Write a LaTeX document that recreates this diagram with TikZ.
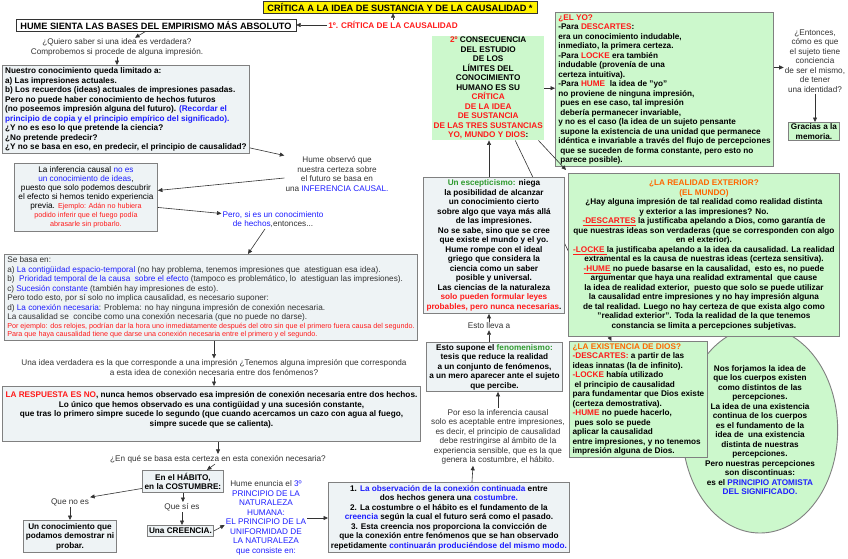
\documentclass[tikz,border=0pt]{standalone}
\usepackage{fontspec}
\setmainfont{Liberation Sans}
\usepackage{xcolor}
\usetikzlibrary{arrows.meta, shapes.geometric, backgrounds}

\definecolor{boxblue}{HTML}{EEF3F5}
\definecolor{boxgreen}{HTML}{CCF8CC}
\definecolor{bordergray}{HTML}{808080}
\definecolor{textgray}{HTML}{333333}
\definecolor{hred}{HTML}{FF1A1A}
\definecolor{hblue}{HTML}{1E1EFF}
\definecolor{hgreen}{HTML}{2E9A2E}
\definecolor{horange}{HTML}{FF6600}

\newcommand{\titlef}{\fontsize{9.2}{11}\selectfont\bfseries}
\newcommand{\bodyb}{\fontsize{8.2}{9.5}\selectfont\bfseries}
\newcommand{\bodyr}{\fontsize{8.2}{9.5}\selectfont}
\newcommand{\smallr}{\fontsize{7.2}{8.5}\selectfont}
\newcommand{\tred}[1]{\textcolor{hred}{#1}}
\newcommand{\tblue}[1]{\textcolor{hblue}{#1}}
\newcommand{\tgreen}[1]{\textcolor{hgreen}{#1}}
\newcommand{\torange}[1]{\textcolor{horange}{#1}}

\begin{document}
\begin{tikzpicture}[x=1pt, y=-1pt,
  arr/.style={-{Triangle[width=4pt,length=4.5pt]}, line width=0.6pt, black!80},
  bluebox/.style={draw=bordergray, fill=boxblue, line width=0.9pt, anchor=north west, inner sep=1pt},
  greenbox/.style={draw=bordergray, fill=boxgreen, line width=0.9pt, anchor=north west, inner sep=1pt},
  note/.style={text=textgray, align=center, font=\bodyr, inner sep=1pt}]
  \useasboundingbox (0,0) rectangle (848,558);

  % Title and first critique
  \node[draw=black!80, fill=yellow, font=\titlef, minimum width=274pt, minimum height=12pt, inner sep=0pt] (title) at (400,7) {CRÍTICA A LA IDEA DE SUSTANCIA Y DE LA CAUSALIDAD *};
  \node[draw=black!80, fill=white, font=\titlef, minimum width=280pt, minimum height=12pt, inner sep=0pt] (hume) at (156,25) {HUME SIENTA LAS BASES DEL EMPIRISMO MÁS ABSOLUTO};
  \node[font=\bodyb, text=hred, inner sep=1pt] (critica1) at (393,25) {1º. CRÍTICA DE LA CAUSALIDAD};
  \node[note] (quiero) at (117,47.5) {¿Quiero saber si una idea es verdadera?\\Comprobemos si procede de alguna impresión.};
  \node[bluebox, font=\bodyb, align=left, minimum width=247pt, minimum height=88pt] (limit) at (2,65) {Nuestro conocimiento queda limitado a:\\
    a) Las impresiones actuales.\\
    b) Los recuerdos (ideas) actuales de impresiones pasadas.\\
    Pero no puede haber conocimiento de hechos futuros\\
    (no poseemos impresión alguna del futuro). \tblue{(Recordar el}\\
    \tblue{principio de copia y el principio empírico del significado).}\\
    ¿Y no es eso lo que pretende la ciencia?\\
    ¿No pretende predecir?\\
    ¿Y no se basa en eso, en predecir, el principio de causalidad?};
  \node[note] (observo) at (337,174) {Hume observó que\\nuestra certeza sobre\\el futuro se basa en\\una \tblue{INFERENCIA CAUSAL.}};
  \node[bluebox, font={\fontsize{8.2}{9}\selectfont}, align=center, minimum width=143pt, minimum height=68pt] (inferencia) at (14,163) {La inferencia causal \tblue{no es}\\
    \tblue{un conocimiento de ideas},\\
    puesto que solo podemos descubrir\\
    el efecto si hemos tenido experiencia\\
    previa. {\smallr\color{hred}Ejemplo: Adán no hubiera}\\
    {\smallr\color{hred}podido inferir que el fuego podía}\\
    {\smallr\color{hred}abrasarle sin probarlo.}};
  \node[note] (hechos) at (273,219.5) {\tblue{Pero, si es un conocimiento}\\\tblue{de hechos}\textcolor{textgray}{,entonces...}};

  % What causality rests on
  \node[bluebox, font=\bodyr, text=textgray, align=left, minimum width=413pt, minimum height=86pt] (basa) at (4,254) {Se basa en:\\
    a) \tblue{La contigüidad espacio-temporal} (no hay problema, tenemos impresiones que\ \ atestiguan esa idea).\\
    b)\ \ \tblue{Prioridad temporal de la causa\ \ sobre el efecto} (tampoco es problemático, lo\ \ atestiguan las impresiones).\\
    c) \tblue{Sucesión constante} (también hay impresiones de esto).\\
    Pero todo esto, por sí solo no implica causalidad, es necesario suponer:\\
    d) \tblue{La conexión necesaria}: Problema: no hay ninguna impresión de conexión necesaria.\\
    La causalidad se\ \ concibe como una conexión necesaria (que no puede no darse).\\[-1pt]
    {\smallr\color{hred}Por ejemplo: dos relojes, podrían dar la hora uno inmediatamente después del otro sin que el primero fuera causa del segundo.}\\[-1pt]
    {\smallr\color{hred}Para que haya causalidad tiene que darse una conexión necesaria entre el primero y el segundo.}};
  \node[note] (verdadera) at (214,367.5) {Una idea verdadera es la que corresponde a una impresión ¿Tenemos alguna impresión que corresponda\\a esta idea de conexión necesaria entre dos fenómenos?};
  \node[bluebox, font=\bodyb, align=center, minimum width=418pt, minimum height=55pt] (respuesta) at (2,386) {\tred{LA RESPUESTA ES NO}, nunca hemos observado esa impresión de conexión necesaria entre dos hechos.\\
    Lo único que hemos observado es una contigüidad y una sucesión constante,\\
    que tras lo primero simpre sucede lo segundo (que cuando acercamos un cazo con agua al fuego,\\
    simpre sucede que se calienta).\\ \mbox{}};
  \node[note] (basaq) at (218,459) {¿En qué se basa esta certeza en esta conexión necesaria?};

  % Habit and belief
  \node[bluebox, font=\bodyb, align=center, minimum width=81pt, minimum height=22pt] (habito) at (142,470) {En el HÁBITO,\\en la COSTUMBRE:};
  \node[note] (queno) at (70,502) {Que no es};
  \node[bluebox, font=\bodyb, align=center, minimum width=93pt, minimum height=32pt] (conocimiento) at (23,520) {Un conocimiento que\\podamos demostrar ni\\probar.};
  \node[note] (quesi) at (182,507) {Que sí es};
  \node[bluebox, font=\bodyb, minimum width=66pt, minimum height=11pt, inner sep=0pt] (creencia) at (147,525) {Una CREENCIA.};
  \node[note] (enuncia) at (266,518) {Hume enuncia el \tblue{3º}\\\tblue{PRINCIPIO DE LA}\\\tblue{NATURALEZA}\\\tblue{HUMANA:}\\\tblue{EL PRINCIPIO DE LA}\\\tblue{UNIFORMIDAD DE}\\\tblue{LA NATURALEZA}\\\tblue{que consiste en:}};
  \node[bluebox, font=\bodyb, align=center, minimum width=241pt, minimum height=70pt] (obs) at (328,482) {1. \tblue{La observación de la conexión continuada} entre\\
    dos hechos genera una \tblue{costumbre.}\\
    2. La costumbre o el hábito es el fundamento de la\\
    \tblue{creencia} según la cual el futuro será como el pasado.\\
    3. Esta creencia nos proporciona la convicción de\\
    que la conexión entre fenómenos que se han observado\\
    repetidamente \tblue{continuarán produciéndose del mismo modo.}};
  \node[note] (poreso) at (498,437) {Por eso la inferencia causal\\solo es aceptable entre impresiones,\\es decir, el principio de causalidad\\debe restringirse al ámbito de la\\experiencia sensible, que es la que\\genera la costumbre, el hábito.};

  % Scepticism and phenomenism
  \node[bluebox, font=\bodyb, align=center, minimum width=136pt, minimum height=49pt] (fenom) at (426,342) {Esto supone el \tgreen{fenomenismo:}\\
    tesis que reduce la realidad\\
    a un conjunto de fenómenos,\\
    a un mero aparecer ante el sujeto\\
    que percibe.};
  \node[note] (lleva) at (489,326) {Esto lleva a};
  \node[bluebox, font=\bodyb, align=center, minimum width=141pt, minimum height=136pt] (escep) at (423,177) {\tgreen{Un escepticismo:} niega\\
    la posibilidad de alcanzar\\
    un conocimiento cierto\\
    sobre algo que vaya más allá\\
    de las impresiones.\\
    No se sabe, sino que se cree\\
    que existe el mundo y el yo.\\
    Hume rompe con el ideal\\
    griego que considera la\\
    ciencia como un saber\\
    posible y universal.\\
    Las ciencias de la naturaleza\\
    \tred{solo pueden formular leyes}\\
    \tred{probables, pero nunca necesarias}.};

  % Second critique: the three substances
  \node[fill=boxgreen, font=\bodyb, align=center, anchor=north west, minimum width=112pt, minimum height=102pt, inner sep=1pt] (consec) at (432,36) {\tred{2º} CONSECUENCIA\\
    DEL ESTUDIO\\
    DE LOS\\
    LÍMITES DEL\\
    CONOCIMIENTO\\
    HUMANO ES SU\\
    \tred{CRÍTICA}\\
    \tred{DE LA IDEA}\\
    \tred{DE SUSTANCIA}\\
    \tred{DE LAS TRES SUSTANCIAS}\\
    \tred{YO, MUNDO Y DIOS}:};
  \node[greenbox, font=\bodyb, align=left, minimum width=218pt, minimum height=154pt] (yo) at (555,12) {\tred{¿EL YO?}\\
    -Para \tred{DESCARTES}:\\
    era un conocimiento indudable,\\
    inmediato, la primera certeza.\\
    -Para \tred{LOCKE} era también\\
    indudable (provenía de una\\
    certeza intuitiva).\\
    -Para \tred{HUME}\ \ la idea de "yo"\\
    no proviene de ninguna impresión,\\
    \hspace*{2pt}pues en ese caso, tal impresión\\
    \hspace*{2pt}debería permanecer invariable,\\
    y no es el caso (la idea de un sujeto pensante\\
    \hspace*{2pt}supone la existencia de una unidad que permanece\\
    idéntica e invariable a través del flujo de percepciones\\
    \hspace*{2pt}que se suceden de forma constante, pero esto no\\
    \hspace*{2pt}parece posible).};
  \node[note] (entonces) at (815,61) {¿Entonces,\\cómo es que\\el sujeto tiene\\conciencia\\de ser el mismo,\\de tener\\una identidad?};
  \node[greenbox, font=\bodyb, align=center, minimum width=51pt, minimum height=18pt, inner sep=0pt] (memoria) at (788,122) {Gracias a la\\memoria.};

  \node[ellipse, draw=bordergray, fill=boxgreen, line width=0.9pt, font=\bodyb, align=center, minimum width=154pt, minimum height=206pt, inner sep=0pt] (atomista) at (760,430) {Nos forjamos la idea de\\
    que los cuerpos existen\\
    como distintos de las\\
    percepciones.\\
    La idea de una existencia\\
    continua de los cuerpos\\
    es el fundamento de la\\
    idea de\ \ una existencia\\
    distinta de nuestras\\
    percepciones.\\
    Pero nuestras percepciones\\
    son discontinuas:\\
    es el \tblue{PRINCIPIO ATOMISTA}\\
    \tblue{DEL SIGNIFICADO.}};
  \node[greenbox, font=\bodyb, align=center, minimum width=271pt, minimum height=163pt] (realidad) at (568,173) {\torange{¿LA REALIDAD EXTERIOR?}\\
    \torange{(EL MUNDO)}\\
    ¿Hay alguna impresión de tal realidad como realidad distinta\\
    y exterior a las impresiones? No.\\
    \tred{\underline{-DESCARTES}} la justificaba apelando a Dios, como garantía de\\
    que nuestras ideas son verdaderas (que se corresponden con algo\\
    en el exterior).\\
    \tred{\underline{-LOCKE\ }}la justificaba apelando a la idea da causalidad. La realidad\\
    extramental es la causa de nuestras ideas (certeza sensitiva).\\
    \tred{\underline{-HUME}} no puede basarse en la causalidad,\ \ esto es, no puede\\
    argumentar que haya una realidad extramental\ \ que cause\\
    la idea de realidad exterior,\ \ puesto que solo se puede utilizar\\
    la causalidad entre impresiones y no hay impresión alguna\\
    de tal realidad. Luego no hay certeza de que exista algo como\\
    "realidad exterior". Toda la realidad de la que tenemos\\
    constancia se limita a percepciones subjetivas.};
  \node[greenbox, font=\bodyb, align=left, minimum width=138pt, minimum height=116pt] (dios) at (569,341) {\torange{¿LA EXISTENCIA DE DIOS?}\\
    \tred{-DESCARTES:} a partir de las\\
    ideas innatas (la de infinito).\\
    \tred{-LOCKE} había utilizado\\
    \hspace*{2pt}el principio de causalidad\\
    para fundamentar que Dios existe\\
    (certeza demostrativa).\\
    \tred{-HUME} no puede hacerlo,\\
    \hspace*{2pt}pues solo se puede\\
    aplicar la causalidad\\
    entre impresiones, y no tenemos\\
    impresión alguna de Dios.};

  % Connectors
  \draw[arr] (critica1.west) -- (hume.east);
  \draw[arr] (critica1.north) -- (critica1.north |- title.south);
  \draw[arr] ([xshift=-10pt]hume.south) -- ([xshift=18pt]quiero.north);
  \draw[arr] (quiero.south) -- (quiero.south |- limit.north);
  \draw[arr] ([yshift=6pt]limit.south east) -- (observo.north west);
  \draw[arr] ([yshift=-4pt]observo.west) -- ([yshift=7pt]inferencia.east);
  \draw[arr] ([yshift=-10pt]inferencia.east) -- ([yshift=6pt]hechos.west);
  \draw[arr] ([xshift=-8pt]hechos.south) -- ([xshift=37pt]basa.north);
  \draw[arr] (verdadera.north |- basa.south) -- (verdadera.north);
  \draw[arr] (verdadera.south) -- (verdadera.south |- respuesta.north);
  \draw[arr] (basaq.north |- respuesta.south) -- (basaq.north);
  \draw[arr] ([xshift=-3pt]basaq.south) -- ([xshift=24pt]habito.north);
  \draw[arr] ([yshift=-7pt]habito.west) -- (queno.north east);
  \draw[arr] (queno.south) -- (queno.south |- conocimiento.north);
  \draw[arr] (habito.south) -- (habito.south |- quesi.north);
  \draw[arr] (quesi.south) -- (quesi.south |- creencia.north);
  \draw[arr] (creencia.east) -- ([yshift=-7pt]enuncia.west);
  \draw[arr] (enuncia.east) -- (enuncia.east -| obs.west);
  \draw[arr] ([xshift=23pt]obs.north) -- ([xshift=-25pt]poreso.south);
  \draw[arr] (poreso.north) -- (poreso.north |- fenom.south);
  \draw[arr] (lleva.south |- fenom.north) -- (lleva.south);
  \draw[arr] (lleva.north) -- (lleva.north |- escep.south);
  \draw[arr] (lleva.north |- escep.north) -- (lleva.north |- consec.south);
  \draw[arr] ([xshift=-6pt]consec.south east) -- ([xshift=-2pt,yshift=3pt]realidad.north west);
  \draw[arr] (consec.east) -- (consec.east -| yo.west);
  \draw[arr] ([yshift=22pt]yo.east) -- ([yshift=22pt]yo.east -| entonces.west);
  \draw[arr] (entonces.south) -- (entonces.south |- memoria.north);
  \begin{pgfonlayer}{background}
    \draw[arr] ([xshift=27pt]consec.south) -- ([xshift=-27pt]dios.north);
  \end{pgfonlayer}
\end{tikzpicture}
\end{document}
